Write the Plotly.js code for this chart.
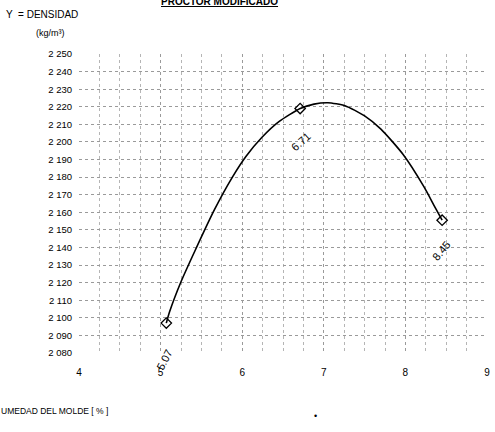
<!DOCTYPE html>
<html>
<head>
<meta charset="utf-8">
<script src="https://cdn.plot.ly/plotly-3.0.1.min.js"></script>
<style>
html,body{margin:0;padding:0;background:#fff;}
#chart{width:495px;height:432px;}
</style>
</head>
<body>
<div id="chart"></div>
<script>
// Fitted curve
const curveX = [5.07, 5.11, 5.25, 5.43, 5.66, 5.88, 6.05, 6.24, 6.45, 6.71, 6.88, 7.05, 7.26, 7.50, 7.70, 7.97, 8.23, 8.35, 8.45];
const curveY = [2097, 2103.4, 2120.5, 2139, 2161.5, 2180, 2192, 2202.5, 2211.5, 2219, 2221.5, 2222.3, 2220.6, 2214.8, 2207.3, 2193, 2174.3, 2164, 2155.5];
// Measured points
const pointX = [5.07, 6.71, 8.45];
const pointY = [2097, 2219, 2155.5];
const pointLabels = ["5.07", "6.71", "8.45"];
const labelAngles = [-62, -42, -50];
// Axes ticks
const xTickVals = [4, 5, 6, 7, 8, 9];
const xTickText = ["4", "5", "6", "7", "8", "9"];
const yTickVals = [2080, 2090, 2100, 2110, 2120, 2130, 2140, 2150, 2160, 2170, 2180, 2190, 2200, 2210, 2220, 2230, 2240, 2250];
const yTickText = ["2 080", "2 090", "2 100", "2 110", "2 120", "2 130", "2 140", "2 150", "2 160", "2 170", "2 180", "2 190", "2 200", "2 210", "2 220", "2 230", "2 240", "2 250"];
// Texts
const chartTitle = "PROCTOR MODIFICADO";
const yTitle1 = "Y  = DENSIDAD";
const yTitle2 = "(kg/m³)";
const xTitle = "UMEDAD DEL MOLDE [ % ]";

const FONT = "Liberation Sans Narrow, Arial Narrow, Liberation Sans, Arial, sans-serif";

const traces = [
  {
    x: curveX, y: curveY, type: "scatter", mode: "lines",
    line: {color: "#000", width: 1.6, shape: "spline", smoothing: 0.6},
    hoverinfo: "skip", showlegend: false
  },
  {
    x: pointX, y: pointY, type: "scatter", mode: "markers",
    marker: {symbol: "diamond-open", size: 8, color: "#000", line: {width: 1.3, color: "#000"}},
    showlegend: false
  }
];

const annotations = pointX.map((px, i) => ({
  x: px, y: pointY[i], xref: "x", yref: "y",
  text: pointLabels[i], showarrow: false,
  textangle: labelAngles[i],
  xshift: [-2, 0, -1][i], yshift: [-37, -33, -31][i],
  font: {family: FONT, size: 11, color: "#000"}
}));

annotations.push(
  {xref: "paper", yref: "paper", x: 0.345, y: 1.176, xanchor: "center", yanchor: "middle",
   text: "<b><u>" + chartTitle + "</u></b>", showarrow: false,
   font: {family: FONT, size: 10, color: "#000"}},
  {xref: "paper", yref: "paper", x: -0.185, y: 1.132, xanchor: "left", yanchor: "middle",
   text: yTitle1, showarrow: false, font: {family: FONT, size: 10, color: "#000"}},
  {xref: "paper", yref: "paper", x: -0.11, y: 1.07, xanchor: "left", yanchor: "middle",
   text: yTitle2, showarrow: false, font: {family: FONT, size: 9, color: "#000"}},
  {xref: "paper", yref: "paper", x: -0.195, y: -0.195, xanchor: "left", yanchor: "middle",
   text: xTitle, showarrow: false, font: {family: FONT, size: 8.5, color: "#000"}},
  {xref: "paper", yref: "paper", x: 0.58, y: -0.21, xanchor: "center", yanchor: "middle",
   text: "•", showarrow: false, font: {family: FONT, size: 9, color: "#000"}}
);

const layout = {
  width: 495, height: 432,
  margin: {l: 79, r: 8, t: 54, b: 79, pad: 0},
  paper_bgcolor: "#fff", plot_bgcolor: "#fff",
  font: {family: FONT, size: 10, color: "#000"},
  xaxis: {
    range: [4, 9], tickvals: xTickVals, ticktext: xTickText,
    showgrid: true, gridcolor: "#9a9a9a", griddash: "dot", gridwidth: 1,
    minor: {dtick: 0.25, showgrid: true, gridcolor: "#b5b5b5", griddash: "dot", gridwidth: 1},
    zeroline: false, showline: false, ticks: "", ticklen: 0, ticklabelstandoff: 12,
    tickfont: {family: FONT, size: 10, color: "#000"}
  },
  yaxis: {
    range: [2080, 2250], tickvals: yTickVals, ticktext: yTickText,
    showgrid: true, gridcolor: "#9a9a9a", griddash: "dot", gridwidth: 1,
    zeroline: false, showline: false, ticks: "", ticklen: 0, ticklabelstandoff: 6,
    tickfont: {family: FONT, size: 9.5, color: "#000"}
  },
  annotations: annotations
};

Plotly.newPlot("chart", traces, layout, {staticPlot: true, displayModeBar: false});
</script>
</body>
</html>
